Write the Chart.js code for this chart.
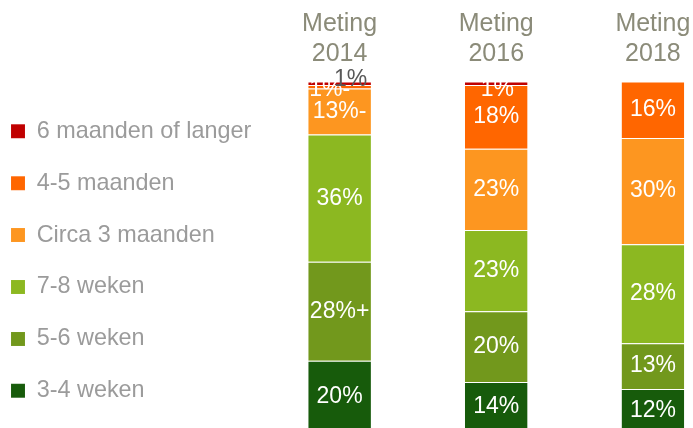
<!DOCTYPE html>
<html>
<head>
<meta charset="utf-8">
<script src="https://cdn.jsdelivr.net/npm/chart.js@4"></script>
<style>
  html, body { margin: 0; padding: 0; background: #fff; }
  #wrap { position: relative; width: 693px; height: 428px; }
</style>
</head>
<body>
<div id="wrap"><canvas id="chart"></canvas></div>
<script>
// categories (multi-line tick labels on the top axis)
const metingen = [['Meting', '2014'], ['Meting', '2016'], ['Meting', '2018']];

// series, bottom of the stack first
const seriesNames = ['3-4 weken', '5-6 weken', '7-8 weken', 'Circa 3 maanden', '4-5 maanden', '6 maanden of langer'];
const weken34   = [20, 14, 12];
const weken56   = [28, 20, 13];
const weken78   = [36, 23, 28];
const circa3mnd = [13, 23, 30];
const mnd45     = [1, 18, 16];
const mnd6plus  = [1, 1, 0];

// labels as printed on the slide (+/- = significant change)
const labels34   = ['20%', '14%', '12%'];
const labels56   = ['28%+', '20%', '13%'];
const labels78   = ['36%', '23%', '28%'];
const labelsC3   = ['13%-', '23%', '30%'];
const labels45   = ['1%-', '18%', '16%'];
const labels6p   = ['1%', '1%', ''];

const colors = ['#175B0B', '#72981C', '#8CB821', '#FD9620', '#FF6600', '#C00000'];

// a few labels sit off-centre in the original
const labelNudge = {
  '4:0': { dx: -10, dy: 3 },
  '5:0': { dx: 11, dy: -4, color: '#595959' },
  '5:1': { dx: 1, dy: 6 }
};

const segmentLabels = {
  id: 'segmentLabels',
  afterDatasetsDraw(chart) {
    const ctx = chart.ctx;
    ctx.save();
    ctx.font = '23px "Liberation Sans", Arial, sans-serif';
    ctx.textAlign = 'center';
    ctx.textBaseline = 'middle';
    chart.data.datasets.forEach((ds, di) => {
      chart.getDatasetMeta(di).data.forEach((bar, i) => {
        const txt = ds.valueLabels[i];
        if (!txt) return;
        const n = labelNudge[di + ':' + i] || {};
        ctx.fillStyle = n.color || '#ffffff';
        ctx.fillText(txt, bar.x + (n.dx || 0), (bar.y + bar.base) / 2 + (n.dy || 0));
      });
    });
    ctx.restore();
  }
};

Chart.defaults.font.family = '"Liberation Sans", Arial, sans-serif';

const seriesData = [weken34, weken56, weken78, circa3mnd, mnd45, mnd6plus];
const seriesLabels = [labels34, labels56, labels78, labelsC3, labels45, labels6p];

new Chart(document.getElementById('chart'), {
  type: 'bar',
  data: {
    datasets: seriesNames.map((name, i) => ({
      label: name,
      data: seriesData[i].map((v, k) => ({ x: k, y: v })),
      valueLabels: seriesLabels[i],
      backgroundColor: colors[i],
      borderColor: 'rgba(255,255,255,0.3)',
      borderWidth: { top: 1, bottom: 0, left: 0, right: 0 },
      borderSkipped: false,
      barPercentage: 0.4,
      categoryPercentage: 1.0
    }))
  },
  options: {
    responsive: true,
    maintainAspectRatio: false,
    animation: false,
    layout: { padding: { left: -17.5, right: 0, top: -2.5, bottom: -3 } },
    plugins: {
      tooltip: { enabled: false },
      legend: {
        position: 'left',
        align: 'end',
        reverse: true,
        labels: {
          boxWidth: 14,
          boxHeight: 14,
          padding: 28.5,
          color: '#9B9B9B',
          font: { size: 23.4, lineHeight: 1 }
        }
      }
    },
    scales: {
      x: {
        type: 'linear',
        position: 'top',
        stacked: true,
        offset: false,
        min: -0.5,
        max: 2.256,
        // the last label may run off the edge, like in the slide
        afterFit(scale) { scale.paddingLeft = 0; scale.paddingRight = 0; },
        grid: { display: false, drawTicks: false, offset: false },
        border: { display: false },
        ticks: {
          stepSize: 1,
          includeBounds: false,
          color: '#8B8B79',
          font: { size: 25, lineHeight: 1.2 },
          padding: 12,
          maxRotation: 0,
          autoSkip: false,
          callback: (v) => metingen[v] || ''
        }
      },
      y: {
        display: false,
        stacked: true,
        min: 1,
        max: 99
      }
    }
  },
  plugins: [segmentLabels]
});
</script>
</body>
</html>
